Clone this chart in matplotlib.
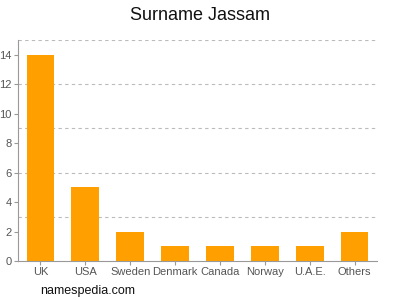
import matplotlib
matplotlib.use("Agg")
import matplotlib.pyplot as plt

# data
countries = ["UK", "USA", "Sweden", "Denmark", "Canada", "Norway", "U.A.E.", "Others"]
counts = [14, 5, 2, 1, 1, 1, 1, 2]
yticks = [0, 2, 4, 6, 8, 10, 12, 14]
gridlines = [3, 6, 9, 12, 15]

bar_color = "#ffa000"
axis_color = "#999999"
text_color = "#555555"

plt.rcParams["font.family"] = ["Liberation Sans", "DejaVu Sans"]

fig = plt.figure(figsize=(4, 3), dpi=100)
ax = fig.add_axes([0.045, 0.13, 0.8975, 0.7367])

x = range(len(countries))
ax.bar(x, counts, width=0.62, color=bar_color, zorder=2)

for g in gridlines:
    ax.axhline(g, color="#bbbbbb", linestyle=(0, (3, 3)), linewidth=0.8, zorder=1)

ax.set_xlim(-0.5, len(countries) - 0.5)
ax.set_ylim(0, 15)
ax.set_xticks(list(x))
ax.set_xticklabels(countries)
ax.set_yticks(yticks)

for side in ["top", "right"]:
    ax.spines[side].set_visible(False)
for side in ["left", "bottom"]:
    ax.spines[side].set_color(axis_color)
    ax.spines[side].set_linewidth(0.8)

ax.tick_params(axis="both", colors=axis_color, labelcolor=text_color, labelsize=8, length=3, width=0.8, pad=1.5)

fig.text(0.5, 0.95, "Surname Jassam", ha="center", va="center", fontsize=13, color="#111111")
fig.text(0.1, 0.03, "namespedia.com", ha="left", va="center", fontsize=9, color="#111111")

fig.savefig("out.png", dpi=100)
